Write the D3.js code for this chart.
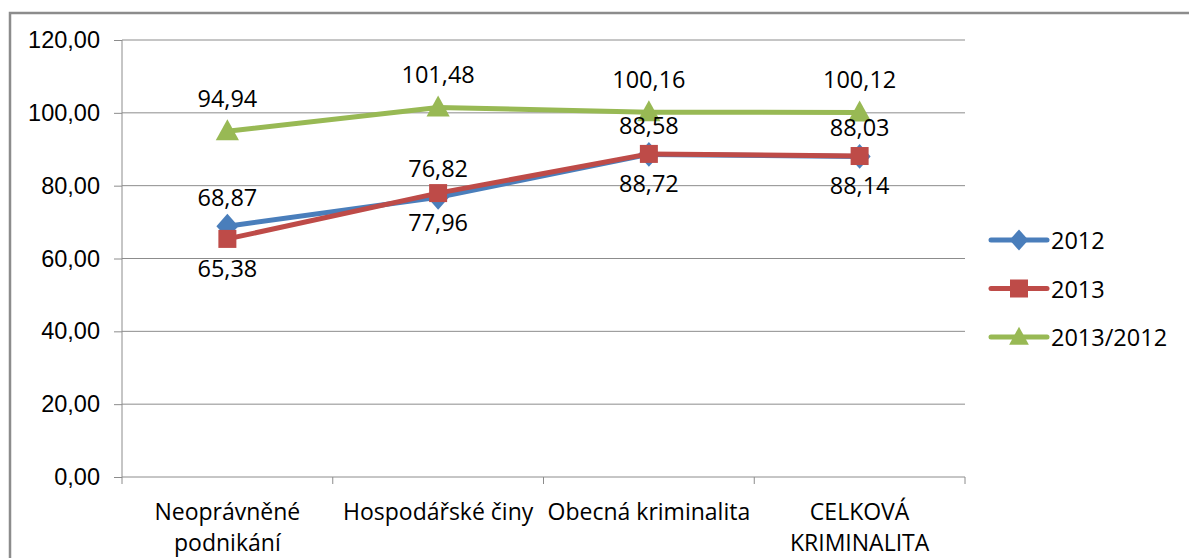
<!DOCTYPE html>
<html>
<head>
<meta charset="utf-8">
<script src="https://cdn.jsdelivr.net/npm/d3@7"></script>
<style>
  html, body { margin: 0; padding: 0; background: #fff; }
  svg { display: block; font-family: "Open Sans", "DejaVu Sans", sans-serif; }
</style>
</head>
<body>
<div id="chart"></div>
<script>
/* categories, series and ticks */
const CATEGORIES = [
  ['Neoprávněné', 'podnikání'],
  ['Hospodářské činy'],
  ['Obecná kriminalita'],
  ['CELKOVÁ', 'KRIMINALITA'],
];
const VALUES_2012 = [68.87, 76.82, 88.58, 88.03];
const VALUES_2013 = [65.38, 77.96, 88.72, 88.14];
const VALUES_RATIO = [94.94, 101.48, 100.16, 100.12];
const Y_TICKS = [0, 20, 40, 60, 80, 100, 120];

const SERIES = [
  { name: '2012',      values: VALUES_2012,  color: '#4a7ebb', marker: 'diamond',  labelDy: -29 },
  { name: '2013',      values: VALUES_2013,  color: '#be4b48', marker: 'square',   labelDy: 29 },
  { name: '2013/2012', values: VALUES_RATIO, color: '#98b954', marker: 'triangle', labelDy: -33 },
];

const width = 1189, height = 558;
const margin = { top: 40, right: 224, bottom: 81, left: 122 };
const innerW = width - margin.left - margin.right;
const innerH = height - margin.top - margin.bottom;
const fmt = v => d3.format('.2f')(v).replace('.', ',');

const svg = d3.select('#chart').append('svg')
  .attr('width', width).attr('height', height);

// outer frame (cut off on the right and bottom)
svg.append('path')
  .attr('d', `M10,${height + 5} V13 H${width + 5}`)
  .attr('fill', 'none').attr('stroke', '#8c8c8c').attr('stroke-width', 2.5);

const g = svg.append('g').attr('transform', `translate(${margin.left},${margin.top})`);

const x = d3.scaleBand()
  .domain(CATEGORIES.map((c, i) => i))
  .range([0, innerW]);

const y = d3.scaleLinear().domain([0, 120]).range([innerH, 0]);

// horizontal gridlines
g.append('g')
  .selectAll('line').data(Y_TICKS.filter(t => t > 0)).join('line')
  .attr('x1', 0).attr('x2', innerW)
  .attr('y1', d => y(d)).attr('y2', d => y(d))
  .attr('stroke', '#8c8c8c').attr('stroke-width', 1);

// Y axis
const yAxis = g.append('g')
  .call(d3.axisLeft(y).tickValues(Y_TICKS).tickFormat(fmt).tickSize(8).tickPadding(14));
yAxis.select('.domain').attr('stroke', '#8c8c8c').attr('d', `M0,0V${innerH}`);
yAxis.selectAll('.tick line').attr('stroke', '#8c8c8c');
yAxis.selectAll('text').style('font-size', '23.5px').attr('fill', '#000');

// X axis
const xAxis = g.append('g').attr('transform', `translate(0,${innerH})`);
xAxis.append('line')
  .attr('x1', 0).attr('x2', innerW)
  .attr('stroke', '#8c8c8c');
xAxis.selectAll('.xtick').data(d3.range(CATEGORIES.length + 1)).join('line')
  .attr('x1', d => d * x.bandwidth()).attr('x2', d => d * x.bandwidth())
  .attr('y1', 0).attr('y2', 7)
  .attr('stroke', '#8c8c8c');
CATEGORIES.forEach((lines, i) => {
  const t = xAxis.append('text')
    .attr('x', x(i) + x.bandwidth() / 2)
    .attr('y', 43)
    .attr('text-anchor', 'middle')
    .style('font-size', '23px');
  lines.forEach((l, j) => {
    t.append('tspan')
      .attr('x', x(i) + x.bandwidth() / 2)
      .attr('dy', j === 0 ? 0 : 31)
      .text(l);
  });
});

const cx = i => x(i) + x.bandwidth() / 2;

function drawMarker(sel, type, color, s) {
  if (type === 'diamond') {
    sel.append('path').attr('d', `M0,${-s * 0.62}L${s * 0.55},0L0,${s * 0.62}L${-s * 0.55},0Z`).attr('fill', color);
  } else if (type === 'square') {
    sel.append('rect').attr('x', -s / 2).attr('y', -s / 2).attr('width', s).attr('height', s).attr('fill', color);
  } else {
    sel.append('path').attr('d', `M0,${-s * 0.6}L${s * 0.58},${s * 0.45}L${-s * 0.58},${s * 0.45}Z`).attr('fill', color);
  }
}

const line = d3.line().x((d, i) => cx(i)).y(d => y(d));

SERIES.forEach(s => {
  g.append('path')
    .datum(s.values)
    .attr('d', line)
    .attr('fill', 'none')
    .attr('stroke', s.color)
    .attr('stroke-width', 5)
    .attr('stroke-linejoin', 'round');
  s.values.forEach((v, i) => {
    const m = g.append('g').attr('transform', `translate(${cx(i)},${y(v)})`);
    drawMarker(m, s.marker, s.color, s.marker === 'square' ? 18 : 20);
  });
});

// data labels on top
SERIES.forEach(s => {
  s.values.forEach((v, i) => {
    g.append('text')
      .attr('x', cx(i))
      .attr('y', y(v) + s.labelDy)
      .attr('text-anchor', 'middle')
      .attr('dominant-baseline', 'central')
      .style('font-size', '23.5px')
      .text(fmt(v));
  });
});

// legend
const legend = svg.append('g').attr('transform', 'translate(991,240)');
SERIES.forEach((s, i) => {
  const row = legend.append('g').attr('transform', `translate(0,${i * 48.5})`);
  row.append('line').attr('x1', 0).attr('x2', 56)
    .attr('stroke', s.color).attr('stroke-width', 5).attr('stroke-linecap', 'round');
  const m = row.append('g').attr('transform', 'translate(28,0)');
  drawMarker(m, s.marker, s.color, s.marker === 'square' ? 18 : 17);
  row.append('text').attr('x', 60).attr('y', 0)
    .attr('dominant-baseline', 'central')
    .style('font-size', '23.5px')
    .text(s.name);
});
</script>
</body>
</html>
